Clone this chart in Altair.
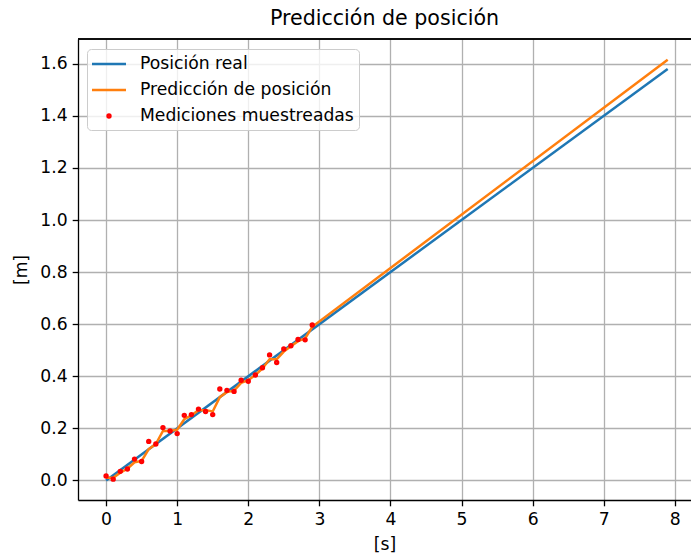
import altair as alt
import pandas as pd

# Measurements (sampled every 0.1 s)
t_meas = [0.0, 0.1, 0.2, 0.3, 0.4, 0.5, 0.6, 0.7, 0.8, 0.9,
          1.0, 1.1, 1.2, 1.3, 1.4, 1.5, 1.6, 1.7, 1.8, 1.9,
          2.0, 2.1, 2.2, 2.3, 2.4, 2.5, 2.6, 2.7, 2.8, 2.9]
y_meas = [0.017, 0.005, 0.035, 0.044, 0.082, 0.073, 0.150, 0.140, 0.203, 0.190,
          0.180, 0.250, 0.253, 0.274, 0.265, 0.253, 0.351, 0.346, 0.342, 0.385,
          0.381, 0.405, 0.433, 0.482, 0.453, 0.505, 0.517, 0.541, 0.540, 0.597]

# Prediction (filtered estimate, then extrapolated)
t_pred = t_meas + [7.9]
y_pred = [0.010, 0.010, 0.030, 0.045, 0.070, 0.075, 0.120, 0.140, 0.190, 0.190,
          0.195, 0.235, 0.250, 0.270, 0.270, 0.265, 0.320, 0.340, 0.345, 0.375,
          0.385, 0.405, 0.430, 0.465, 0.465, 0.495, 0.515, 0.535, 0.545, 0.590,
          1.615]

# Real position
t_real = [0.0, 7.9]
y_real = [0.0, 1.58]

series = ["Posición real", "Predicción de posición", "Mediciones muestreadas"]
colors = ["#1f77b4", "#ff7f0e", "#ff0000"]

df_real = pd.DataFrame({"t": t_real, "y": y_real, "serie": series[0]})
df_pred = pd.DataFrame({"t": t_pred, "y": y_pred, "serie": series[1]})
df_meas = pd.DataFrame({"t": t_meas, "y": y_meas, "serie": series[2]})

FONT = "DejaVu Sans"
FS = 17.2
W, H = 613, 461

xscale = alt.Scale(domain=[-0.395, 8.228], nice=False, zero=False)
yscale = alt.Scale(domain=[-0.075, 1.695], nice=False, zero=False)

xaxis = alt.Axis(values=list(range(0, 9)), title="[s]", format="d")
yaxis = alt.Axis(values=[0.0, 0.2, 0.4, 0.6, 0.8, 1.0, 1.2, 1.4, 1.6], title="[m]", format=".1f")

SYM = 289  # sqrt = 17 -> handle length 34 with the long stroke path
legend = alt.Legend(
    title=None, orient="none", legendX=9, legendY=10,
    fillColor="rgba(255,255,255,0.8)", strokeColor="#cccccc", cornerRadius=4,
    padding=5, rowPadding=7, labelFont=FONT, labelFontSize=FS, labelColor="#000000",
    symbolStrokeWidth=2.5, symbolSize=SYM, symbolOffset=7, labelOffset=21, labelLimit=400,
)

color_scale = alt.Scale(domain=series, range=colors)
long_stroke = "M-2,0H2"
dot = "M0.17,0A0.17,0.17,0,1,1,-0.17,0A0.17,0.17,0,1,1,0.17,0Z"
shape_scale = alt.Scale(domain=series, range=[long_stroke, long_stroke, dot])

line_real = alt.Chart(df_real).mark_line(strokeWidth=2.5, clip=True).encode(
    x=alt.X("t:Q", scale=xscale, axis=xaxis),
    y=alt.Y("y:Q", scale=yscale, axis=yaxis),
    color=alt.Color("serie:N", scale=color_scale, legend=legend),
)
line_pred = alt.Chart(df_pred).mark_line(strokeWidth=2.5, clip=True).encode(
    x=alt.X("t:Q", scale=xscale, axis=xaxis),
    y=alt.Y("y:Q", scale=yscale, axis=yaxis),
    color=alt.Color("serie:N", scale=color_scale, legend=legend),
)
points = alt.Chart(df_meas).mark_point(filled=False, strokeWidth=2.5, opacity=1, size=SYM).encode(
    x=alt.X("t:Q", scale=xscale, axis=xaxis),
    y=alt.Y("y:Q", scale=yscale, axis=yaxis),
    color=alt.Color("serie:N", scale=color_scale, legend=legend),
    shape=alt.Shape("serie:N", scale=shape_scale, legend=legend),
)

top_spine = alt.Chart(df_real).mark_rule(color="#000000", strokeWidth=1.3).encode(
    x=alt.value(0), x2=alt.value(W), y=alt.value(0)
)

chart = alt.layer(line_real, line_pred, points, top_spine).properties(
    width=W, height=H,
    title=alt.TitleParams("Predicción de posición", font=FONT, fontSize=20.6,
                          fontWeight="normal", color="#000000", offset=9),
    autosize=alt.AutoSizeParams(type="none"),
    padding={"left": 78, "top": 39, "right": 0, "bottom": 59},
).configure_view(stroke=None).configure_axis(
    labelFont=FONT, labelFontSize=FS, labelColor="#000000",
    titleFont=FONT, titleFontSize=FS, titleFontWeight="normal", titleColor="#000000",
    domainColor="#000000", domainWidth=1.3, tickColor="#000000", tickSize=5.8, tickWidth=1.3,
    labelPadding=5, gridColor="#b0b0b0", gridWidth=1.3, gridOpacity=1,
).configure_axisX(titlePadding=7).configure_axisY(titlePadding=9)

chart.save("out.html", embed_options={"renderer": "svg", "actions": False})
